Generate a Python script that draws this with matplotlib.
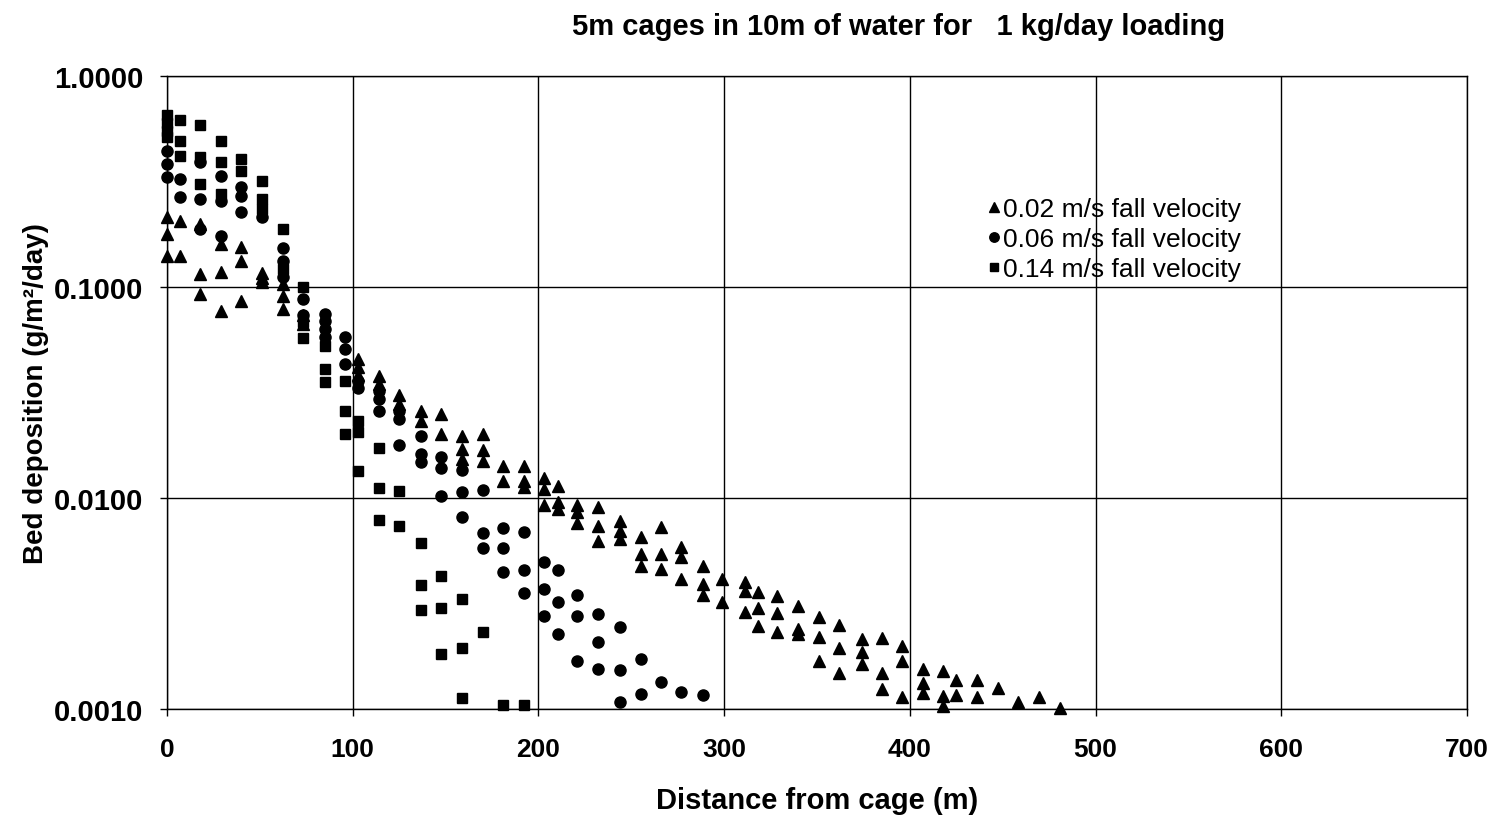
import matplotlib
matplotlib.use("Agg")
import matplotlib.pyplot as plt
from matplotlib.ticker import FixedLocator, FuncFormatter

plt.rcParams['font.family'] = ['Liberation Sans', 'DejaVu Sans']

# fall velocity 0.02 m/s (triangles)
x_002 = [0, 0, 0, 7, 7, 18, 18, 18, 29, 29, 29, 40, 40, 40, 51, 51, 51,
         62.5, 62.5, 62.5, 73, 73, 103, 103, 103, 114, 114, 125, 125, 137, 137,
         147.5, 147.5, 159, 159, 159, 170, 170, 170, 181, 181, 192, 192, 192,
         203, 203, 203, 210.5, 210.5, 210.5, 221, 221, 221, 232, 232, 232,
         244, 244, 244, 255, 255, 255, 266, 266, 266, 277, 277, 277,
         288.5, 288.5, 288.5, 299, 299, 311, 311, 311, 318, 318, 318,
         328.5, 328.5, 328.5, 340, 340, 340, 351, 351, 351, 362, 362, 362,
         374, 374, 374, 385, 385, 385, 396, 396, 396, 407, 407, 407,
         418, 418, 418, 425, 425, 436, 436, 447.5, 458, 469.5, 481]
y_002 = [0.215, 0.178, 0.140, 0.206, 0.140, 0.199, 0.115, 0.0927, 0.160, 0.118, 0.0769,
         0.155, 0.133, 0.0859, 0.117, 0.110, 0.106,
         0.103, 0.0906, 0.0787, 0.074, 0.0668, 0.0456, 0.0418, 0.0383, 0.0379, 0.0347,
         0.0308, 0.0279, 0.0258, 0.0231,
         0.0250, 0.0201, 0.0197, 0.0171, 0.0153, 0.0201, 0.0168, 0.0150, 0.0142, 0.0120,
         0.0142, 0.0120, 0.0113,
         0.0124, 0.0110, 0.00927, 0.0114, 0.00958, 0.00887, 0.00927, 0.00859, 0.00762,
         0.00906, 0.00737, 0.00625,
         0.00778, 0.00698, 0.00640, 0.00653, 0.00543, 0.00476, 0.00729, 0.00543, 0.00461,
         0.00586, 0.00525, 0.00413,
         0.00476, 0.00391, 0.00347, 0.00413, 0.00322, 0.00400, 0.00362, 0.00288,
         0.00359, 0.00301, 0.00247,
         0.00343, 0.00285, 0.00232, 0.00308, 0.00239, 0.00227, 0.00273, 0.00219, 0.00169,
         0.00250, 0.00195, 0.00148,
         0.00215, 0.00186, 0.00163, 0.00217, 0.00148, 0.00124, 0.00199, 0.00169, 0.00114,
         0.00155, 0.00133, 0.00119,
         0.00151, 0.00115, 0.00103, 0.00137, 0.00116, 0.00137, 0.00114, 0.00126, 0.00108,
         0.00114, 0.00101]

# fall velocity 0.06 m/s (circles)
x_006 = [0, 0, 0, 7, 7, 18, 18, 18, 29, 29, 29, 40, 40, 40, 51,
         62.5, 62.5, 62.5, 73, 73, 85, 85, 85, 85, 96, 96, 96, 103, 103,
         114, 114, 114, 125, 125, 125, 137, 137, 137, 147.5, 147.5, 147.5,
         159, 159, 159, 170, 170, 170, 181, 181, 181, 192, 192, 192,
         203, 203, 203, 210.5, 210.5, 210.5, 221, 221, 221, 232, 232, 232,
         244, 244, 244, 255, 255, 266, 277, 288.5]
y_006 = [0.441, 0.383, 0.332, 0.325, 0.267, 0.391, 0.261, 0.188, 0.336, 0.256, 0.175,
         0.298, 0.270, 0.227, 0.215,
         0.153, 0.133, 0.111, 0.0874, 0.0737, 0.0742, 0.0689, 0.0632, 0.0579,
         0.0578, 0.0508, 0.0432, 0.0359, 0.0332,
         0.0322, 0.0295, 0.0258, 0.0258, 0.0237, 0.0178, 0.0197, 0.0162, 0.0148,
         0.0156, 0.0139, 0.0102,
         0.0136, 0.0107, 0.00813, 0.0109, 0.00683, 0.00580, 0.00721, 0.00580, 0.00446,
         0.00690, 0.00456, 0.00355,
         0.00497, 0.00371, 0.00276, 0.00456, 0.00322, 0.00227, 0.00347, 0.00276, 0.00169,
         0.00282, 0.00208, 0.00155,
         0.00245, 0.00153, 0.00108, 0.00173, 0.00118, 0.00134, 0.00120, 0.00116]

# fall velocity 0.14 m/s (squares)
x_014 = [0, 0, 0, 0, 7, 7, 7, 18, 18, 18, 29, 29, 29, 40, 40, 51, 51, 51,
         62.5, 62.5, 73, 73, 73, 85, 85, 85, 96, 96, 96, 103, 103, 103,
         114, 114, 114, 125, 125, 137, 137, 137, 147.5, 147.5, 147.5,
         159, 159, 159, 170, 181, 192]
y_014 = [0.653, 0.599, 0.549, 0.514, 0.619, 0.492, 0.418, 0.586, 0.413, 0.308,
         0.492, 0.391, 0.276, 0.404, 0.355, 0.318, 0.261, 0.234,
         0.188, 0.122, 0.100, 0.0683, 0.0573, 0.0525, 0.0409, 0.0355,
         0.0359, 0.0258, 0.0201, 0.0232, 0.0206, 0.0134,
         0.0173, 0.0111, 0.00787, 0.0108, 0.00737, 0.00612, 0.00387, 0.00294,
         0.00427, 0.00301, 0.00182,
         0.00332, 0.00195, 0.00113, 0.00232, 0.00104, 0.00104]

x_ticks = [0, 100, 200, 300, 400, 500, 600, 700]
y_ticks = [0.001, 0.01, 0.1, 1.0]

fig = plt.figure(figsize=(14.97, 8.20), dpi=100)
ax = fig.add_axes([0.1116, 0.1341, 0.8684, 0.772])

ax.plot(x_002, y_002, linestyle='none', marker='^', markersize=9, color='black',
        label='0.02 m/s fall velocity', clip_on=False, zorder=3)
ax.plot(x_006, y_006, linestyle='none', marker='o', markersize=8, color='black',
        label='0.06 m/s fall velocity', clip_on=False, zorder=3)
ax.plot(x_014, y_014, linestyle='none', marker='s', markersize=7.5, color='black',
        label='0.14 m/s fall velocity', clip_on=False, zorder=3)

ax.set_yscale('log')
ax.set_xlim(0, 700)
ax.set_ylim(0.001, 1.0)
ax.xaxis.set_major_locator(FixedLocator(x_ticks))
ax.yaxis.set_major_locator(FixedLocator(y_ticks))
ax.yaxis.set_minor_locator(FixedLocator([]))
ax.yaxis.set_major_formatter(FuncFormatter(lambda v, p: f'{v:.4f}'))
ax.grid(True, which='major', color='black', linewidth=1)
ax.set_axisbelow(True)
for s in ax.spines.values():
    s.set_color('black')
    s.set_linewidth(1)

ax.tick_params(axis='both', direction='out', length=5, width=1)
ax.tick_params(axis='x', pad=15, labelsize=19)
ax.tick_params(axis='y', pad=12, labelsize=21)
for lab in ax.get_xticklabels() + ax.get_yticklabels():
    lab.set_fontweight('bold')

ax.set_xlabel('Distance from cage (m)', fontsize=21, fontweight='bold')
ax.set_ylabel('Bed deposition (g/m²/day)', fontsize=20, fontweight='bold')
ax.xaxis.label.set_va('center')
ax.yaxis.label.set_va('center')
ax.xaxis.set_label_coords(0.5, -0.1438)
ax.yaxis.set_label_coords(-0.1008, 0.5)

fig.text(0.6005, 0.967, '5m cages in 10m of water for   1 kg/day loading',
         ha='center', va='center', fontsize=21, fontweight='bold')

leg = ax.legend(loc='upper left', bbox_to_anchor=(0.622, 0.83), frameon=False,
                fontsize=19, handlelength=0.4, handletextpad=0.15, labelspacing=0.24,
                markerscale=0.85, borderpad=0)

fig.savefig('out.png', dpi=100)
